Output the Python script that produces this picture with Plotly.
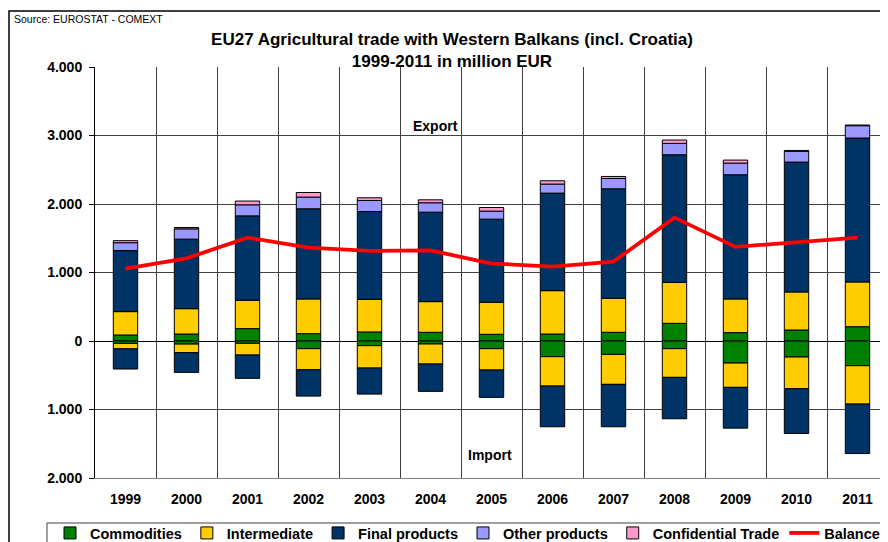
import plotly.graph_objects as go

years = ["1999", "2000", "2001", "2002", "2003", "2004", "2005",
         "2006", "2007", "2008", "2009", "2010", "2011"]

# Export (million EUR)
exp_commodities = [88, 102, 181, 107, 132, 127, 98, 102, 127, 258, 122, 161, 209]
exp_intermediate = [341, 370, 414, 507, 477, 448, 468, 633, 497, 599, 492, 555, 653]
exp_final = [891, 1015, 1232, 1316, 1281, 1306, 1213, 1424, 1598, 1862, 1813, 1896, 2101]
exp_other = [115, 150, 161, 171, 161, 137, 117, 132, 150, 166, 170, 156, 180]
exp_confidential = [30, 20, 55, 67, 40, 43, 53, 48, 30, 49, 44, 14, 10]

# Import (million EUR, shown below zero)
imp_commodities = [35, 45, 34, 112, 68, 44, 112, 229, 195, 112, 322, 234, 361]
imp_intermediate = [80, 126, 171, 308, 327, 292, 312, 429, 438, 419, 355, 463, 560]
imp_final = [294, 287, 340, 384, 380, 399, 399, 594, 619, 604, 595, 653, 722]

balance = [1056, 1207, 1509, 1364, 1316, 1323, 1131, 1087, 1160, 1801, 1374, 1436, 1510]

y_tickvals = [-2000, -1000, 0, 1000, 2000, 3000, 4000]
y_ticktext = ["2.000", "1.000", "0", "1.000", "2.000", "3.000", "4.000"]

series_names = ["Commodities", "Intermediate", "Final products", "Other products", "Confidential Trade"]
colors = ["#008000", "#FFCC00", "#003366", "#9999FF", "#FF99CC"]
exports = [exp_commodities, exp_intermediate, exp_final, exp_other, exp_confidential]
imports = [imp_commodities, imp_intermediate, imp_final]

FONT = "Liberation Sans, Arial, sans-serif"

fig = go.Figure()
for name, col, vals in zip(series_names, colors, exports):
    fig.add_trace(go.Bar(
        x=years, y=vals, name=name, legendgroup=name,
        marker=dict(color=col, line=dict(color="#000000", width=1)),
    ))
for name, col, vals in zip(series_names, colors, imports):
    fig.add_trace(go.Bar(
        x=years, y=[-v for v in vals], name=name, legendgroup=name, showlegend=False,
        marker=dict(color=col, line=dict(color="#000000", width=1)),
    ))
fig.add_trace(go.Scatter(
    x=years, y=balance, name="Balance", mode="lines",
    line=dict(color="#FF0000", width=3.8),
))

W, H = 888, 542
OFF = 8  # page body margin shifts the figure by 8px
# plot area in figure pixels
L, R, T, B = 95 - OFF, 888 - OFF, 67 - OFF, 478 - OFF
def px(x):
    return (x - OFF - L) / (R - L)
def py(y):
    return (B - (y - OFF)) / (B - T)

fig.update_layout(
    width=W, height=H,
    margin=dict(l=L, r=W - R, t=T, b=H - B, autoexpand=False),
    paper_bgcolor="white", plot_bgcolor="white",
    barmode="relative", bargap=0.6,
    font=dict(family=FONT, size=14, color="#000000"),
    title=dict(
        text="EU27 Agricultural trade with Western Balkans (incl. Croatia)<br>1999-2011 in million EUR",
        x=(452 - OFF) / W, xanchor="center", y=1 - (45 - OFF) / H, yanchor="middle",
        font=dict(family=FONT, size=17, weight="bold", color="#000000"),
    ),
    xaxis=dict(
        type="category", tickson="boundaries", ticks="",
        showgrid=True, gridcolor="#404040", gridwidth=1,
        showline=True, linecolor="#808080", linewidth=1,
        tickfont=dict(family=FONT, size=14, weight="bold"),
        ticklabelstandoff=8,
        range=[-0.5, 12.5],
    ),
    yaxis=dict(
        range=[-2000, 4000], tickvals=y_tickvals, ticktext=y_ticktext,
        showgrid=True, gridcolor="#404040", gridwidth=1,
        zeroline=True, zerolinecolor="#000000", zerolinewidth=1,
        showline=True, linecolor="#000000", linewidth=1,
        ticks="outside", ticklen=5, tickcolor="#000000",
        tickfont=dict(family=FONT, size=14, weight="bold"),
        ticklabelstandoff=4,
    ),
    legend=dict(
        orientation="h",
        x=px(50), xanchor="left", y=py(517), yanchor="top",
        borderwidth=0, bgcolor="rgba(0,0,0,0)",
        font=dict(family=FONT, size=14.5, weight="bold"),
        traceorder="normal", itemclick=False,
    ),
    showlegend=True,
)

fig.add_annotation(x=5.09, y=3143, xref="x", yref="y", text="Export", showarrow=False,
                   font=dict(family=FONT, size=14, weight="bold"))
fig.add_annotation(x=5.98, y=-1667, xref="x", yref="y", text="Import", showarrow=False,
                   font=dict(family=FONT, size=14, weight="bold"))
fig.add_annotation(x=px(12), y=py(19), xref="paper", yref="paper", text="Source: EUROSTAT - COMEXT",
                   showarrow=False, xanchor="left", yanchor="middle",
                   font=dict(family=FONT, size=10.5, color="#000000"))

# outer chart frame
fig.add_shape(type="rect", xref="paper", yref="paper",
              x0=px(9), x1=px(900), y0=py(560), y1=py(11),
              line=dict(color="#000000", width=1.5), fillcolor="rgba(0,0,0,0)", layer="below")
# legend box frame
fig.add_shape(type="rect", xref="paper", yref="paper",
              x0=px(47), x1=px(900), y0=py(560), y1=py(523),
              line=dict(color="#404040", width=1), fillcolor="rgba(0,0,0,0)", layer="below")

fig.write_html("out.html")
